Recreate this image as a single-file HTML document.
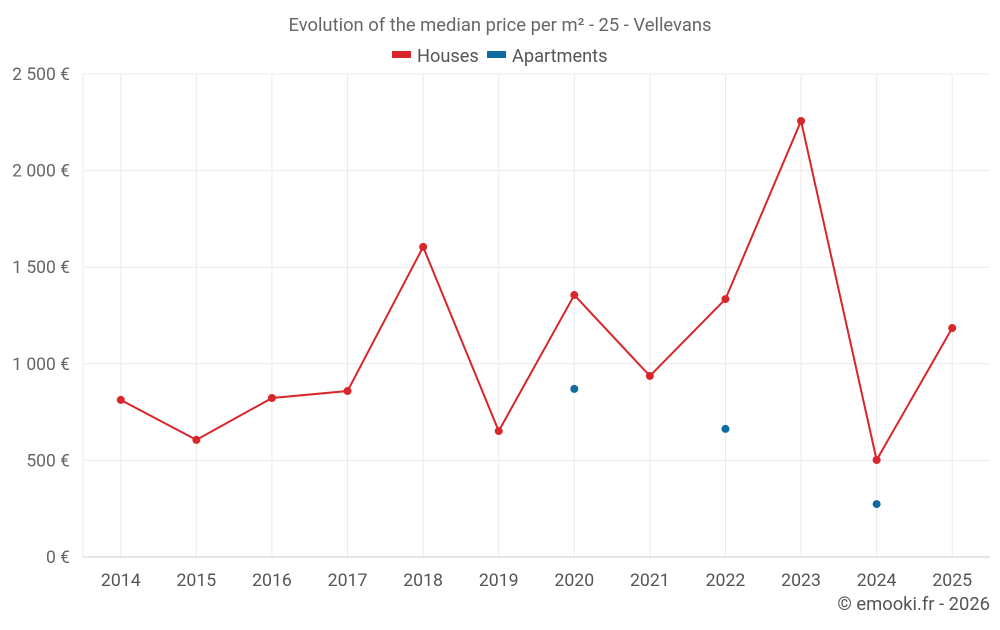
<!DOCTYPE html>
<html><head><meta charset="utf-8"><style>
body{margin:0;background:#fff;font-family:"Liberation Sans",sans-serif}
</style></head><body>
<svg id="c" width="1000" height="625" xmlns="http://www.w3.org/2000/svg" font-family="Roboto, 'Liberation Sans', sans-serif"></svg>
<script>
const categories=["2014","2015","2016","2017","2018","2019","2020","2021","2022","2023","2024","2025"];
const houses=[813,606,823,859,1605,652,1356,937,1335,2257,502,1185];
const apartments=[null,null,null,null,null,null,870,null,663,null,274,null];
const yTicks=[0,500,1000,1500,2000,2500];
const yTickLabels=["0 €","500 €","1 000 €","1 500 €","2 000 €","2 500 €"];
const svg=document.getElementById('c');
const NS="http://www.w3.org/2000/svg";
const L=83,R=990,T=74,B=557,yMax=2500;
const step=(R-L)/categories.length;
const x=i=>L+step*(i+0.5);
const y=v=>B-(v/yMax)*(B-T);
function mk(t,a,txt){const e=document.createElementNS(NS,t);for(const k in a)e.setAttribute(k,a[k]);if(txt!==undefined)e.textContent=txt;svg.appendChild(e);return e;}
const ax=mk('line',{x1:L,x2:L,y1:T,y2:B,stroke:'#ebebeb'});


categories.forEach((c,i)=>{
 const g=mk('line',{x1:x(i),x2:x(i),y1:T,y2:B,stroke:'#ebebeb'});
 
 
 const t=mk('text',{x:x(i),y:586,'text-anchor':'middle','font-size':17.7,fill:'#555'},c);
 
 
});
yTicks.forEach((v,i)=>{
 const g=mk('line',{x1:L,x2:R,y1:y(v),y2:y(v),stroke:i===0?'#ccc':'#ebebeb'});
 
 
 const t=mk('text',{x:70,y:y(v)+6,'text-anchor':'end','font-size':17.5,fill:'#666'},yTickLabels[i]);
 
 
});
const p=mk('polyline',{points:houses.map((v,i)=>x(i)+','+y(v)).join(' '),fill:'none',stroke:'#d9262a','stroke-width':2});


houses.forEach((v,i)=>{
 const c=mk('circle',{cx:x(i),cy:y(v),r:4,fill:'#d9262a'});
 
 
});
apartments.forEach((v,i)=>{
 if(v==null)return;
 const c=mk('circle',{cx:x(i),cy:y(v),r:4,fill:'#0d6aa3'});
 
 
});
const title=mk('text',{x:500,y:31,'text-anchor':'middle','font-size':18.4,fill:'#666'},'Evolution of the median price per m² - 25 - Vellevans');


const l1=mk('rect',{x:392,y:51,width:19,height:7,fill:'#d9262a'});


const l1t=mk('text',{x:417,y:62,'font-size':18.2,fill:'#555'},'Houses');


const l2=mk('rect',{x:487,y:51,width:19,height:7,fill:'#0d6aa3'});


const l2t=mk('text',{x:512,y:62,'font-size':18.2,fill:'#555'},'Apartments');


const cr=mk('text',{x:990,y:610,'text-anchor':'end','font-size':18.4,fill:'#555'},'© emooki.fr - 2026');


</script>
</body></html>
